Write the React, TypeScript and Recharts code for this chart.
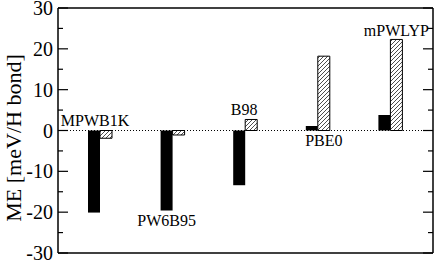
import { BarChart, Bar, XAxis, YAxis, ReferenceLine, LabelList } from "recharts";

const FUNCTIONALS = ["MPWB1K", "PW6B95", "B98", "PBE0", "mPWLYP"];
const SOLID_ME = [-20.1, -19.6, -13.4, 1.1, 3.8];
const HATCHED_ME = [-1.9, -1.1, 2.7, 18.2, 22.3];
const Y_TICKS = [-30, -25, -20, -15, -10, -5, 0, 5, 10, 15, 20, 25, 30];

const data = FUNCTIONALS.map((name, i) => ({
  name,
  solid: SOLID_ME[i],
  hatched: HATCHED_ME[i],
}));

const FONT = "Liberation Serif";
const DOMAIN: [number, number] = [-30, 30];

// where each functional's name sits, relative to one of its two bars
const LABEL_PLACE: { series: "solid" | "hatched"; dx: number; side: "above" | "below"; dy: number }[] = [
  { series: "hatched", dx: -5, side: "above", dy: 5 },
  { series: "solid", dx: 6, side: "below", dy: 15.5 },
  { series: "hatched", dx: -1, side: "above", dy: 4 },
  { series: "hatched", dx: 6, side: "below", dy: 15 },
  { series: "hatched", dx: 6, side: "above", dy: 3 },
];

function makeLabel(series: "solid" | "hatched") {
  return (props: any) => {
    const { index } = props;
    const place = LABEL_PLACE[index];
    if (!place || place.series !== series) return null;
    const box = props.viewBox ?? props;
    const x = Number(box.x ?? props.x);
    const y = Number(box.y ?? props.y);
    const h = Number(box.height ?? props.height);
    const top = Math.min(y, y + h);
    const bottom = Math.max(y, y + h);
    const ty = place.side === "above" ? top - place.dy : bottom + place.dy;
    return (
      <text x={x + place.dx} y={ty} textAnchor="middle" fontFamily={FONT} fontSize={16} fill="#000">
        {FUNCTIONALS[index]}
      </text>
    );
  };
}

// left axis: inward tick mark plus label for the tens
const LeftTick = (props: any) => {
  const v = props.payload.value;
  const major = v % 10 === 0;
  const x = Number(props.x);
  const y = Number(props.y);
  return (
    <g>
      <line x1={x} x2={x + (major ? 10 : 5)} y1={y} y2={y} stroke="#000" strokeWidth={1.2} />
      {major && (
        <text x={x - 5} y={y} dy={7} textAnchor="end" fontFamily={FONT} fontSize={20} fill="#000">
          {v}
        </text>
      )}
    </g>
  );
};

const RightTick = (props: any) => {
  const major = props.payload.value % 10 === 0;
  const x = Number(props.x);
  const y = Number(props.y);
  return <line x1={x} x2={x - (major ? 10 : 5)} y1={y} y2={y} stroke="#000" strokeWidth={1.2} />;
};

export default function App() {
  return (
    <div style={{ position: "absolute", left: 0, top: 0, background: "#fff" }}>
      <BarChart
        width={436}
        height={262}
        data={data}
        margin={{ top: 7, right: 2, bottom: 8, left: 0 }}
        barSize={12}
        barGap={0}
      >
        <defs>
          <pattern id="hatch" patternUnits="userSpaceOnUse" width={4} height={4}>
            <rect width={4} height={4} fill="#fff" />
            <path d="M-1,1 l2,-2 M0,4 l4,-4 M3,5 l2,-2" stroke="#000" strokeWidth={0.7} />
          </pattern>
        </defs>
        <XAxis dataKey="name" height={1} tick={false} tickLine={false} axisLine={{ stroke: "#000", strokeWidth: 1.5 }} padding={{ left: 6, right: 6 }} />
        <XAxis xAxisId="top" orientation="top" dataKey="name" height={1} tick={false} tickLine={false} axisLine={{ stroke: "#000", strokeWidth: 1.5 }} />
        <YAxis
          yAxisId="v"
          type="number"
          domain={DOMAIN}
          allowDataOverflow
          ticks={Y_TICKS}
          interval={0}
          width={58}
          tickLine={false}
          tickSize={0}
          tickMargin={0}
          axisLine={{ stroke: "#000", strokeWidth: 1.5 }}
          tick={LeftTick}
          label={{
            content: () => (
              <text transform="translate(21,138) rotate(-90)" textAnchor="middle" fontFamily={FONT} fontSize={22} fill="#000">
                ME [meV/H bond]
              </text>
            ),
          }}
        />
        <YAxis
          yAxisId="vr"
          orientation="right"
          type="number"
          domain={DOMAIN}
          allowDataOverflow
          ticks={Y_TICKS}
          interval={0}
          width={1}
          tickLine={false}
          tickSize={0}
          tickMargin={0}
          tick={RightTick}
          axisLine={{ stroke: "#000", strokeWidth: 1.5 }}
        />
        <ReferenceLine yAxisId="v" y={0} stroke="#000" strokeDasharray="1 2" />
        <Bar yAxisId="v" dataKey="solid" fill="#000" isAnimationActive={false}>
          <LabelList dataKey="solid" content={makeLabel("solid")} />
        </Bar>
        <Bar yAxisId="v" dataKey="hatched" fill="url(#hatch)" stroke="#000" strokeWidth={1} isAnimationActive={false}>
          <LabelList dataKey="hatched" content={makeLabel("hatched")} />
        </Bar>
      </BarChart>
    </div>
  );
}
